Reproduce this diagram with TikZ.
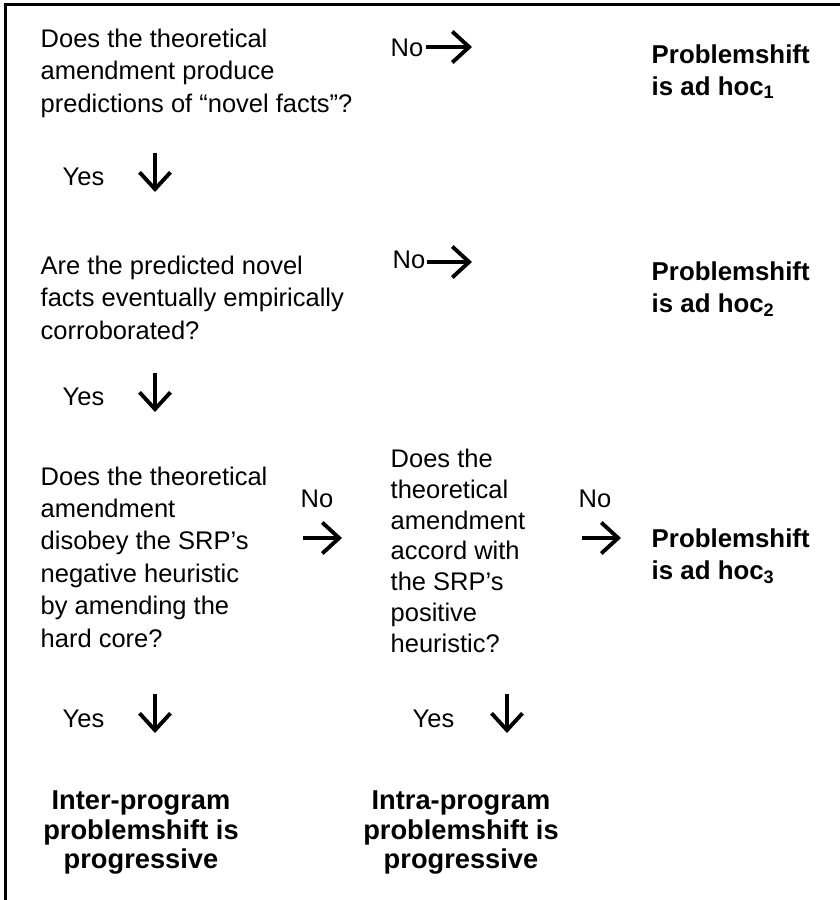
\documentclass[tikz,border=0pt]{standalone}
\usepackage{fontspec}
\setmainfont{Liberation Sans}
\usetikzlibrary{arrows.meta}

\begin{document}
\begin{tikzpicture}[x=0.01cm, y=-0.01cm,
  every node/.style = {inner sep=0pt, anchor=base west, align=left,
    font=\fontsize{7.25}{9.2}\selectfont},
  tight/.style = {font=\fontsize{7.25}{8.73}\selectfont},
  verdict/.style = {font=\fontsize{7.35}{9.1}\selectfont\bfseries},
  outcome/.style = {anchor=base, align=center,
    font=\fontsize{7.75}{8.25}\selectfont\bfseries},
  glyph/.style = {line width=1.1pt, -{Straight Barb[length=4.8pt, width=8.8pt]}}]
  \useasboundingbox (0,0) rectangle (840,900);
  \draw[line width=0.7pt] (840,4.3) -| (5.3,900);

  \node (q1) at (40,112) {Does the theoretical\\ amendment produce\\ predictions of “novel facts”?};
  \node (q2) at (40,339) {Are the predicted novel\\ facts eventually empirically\\ corroborated?};
  \node (q3) at (40,647) {Does the theoretical\\ amendment\\ disobey the SRP’s\\ negative heuristic\\ by amending the\\ hard core?};
  \node[tight] (q4) at (390,652) {Does the\\ theoretical\\ amendment\\ accord with\\ the SRP’s\\ positive\\ heuristic?};

  \node (no1) at (390,56) {No};
  \node (no2) at (392,268) {No};
  \node (no3) at (300,507) {No};
  \node (no4) at (578,507) {No};
  \node (yes1) at (62,185) {Yes};
  \node (yes2) at (62,405) {Yes};
  \node (yes3) at (62,727) {Yes};
  \node (yes4) at (412,727) {Yes};

  \node[verdict] (adhoc1) at (651,95) {Problemshift\\ is ad hoc\textsubscript{1}};
  \node[verdict] (adhoc2) at (651,312) {Problemshift\\ is ad hoc\textsubscript{2}};
  \node[verdict] (adhoc3) at (651,579) {Problemshift\\ is ad hoc\textsubscript{3}};
  \node[outcome] (inter) at (141,868) {Inter-program\\ problemshift is\\ progressive};
  \node[outcome] (intra) at (461,868) {Intra-program\\ problemshift is\\ progressive};

  \foreach \n/\xa/\ya/\xb/\yb in {no1/426/47/472/47, no2/427/262/472/262,
      no3/303/538/342/538, no4/582/538/621/538, yes1/155/153/155/192,
      yes2/155/373/155/412, yes3/155/694/155/733, yes4/507/694/507/733} {
    \coordinate (\n-from) at (\xa,\ya);
    \coordinate (\n-to) at (\xb,\yb);
    \draw[glyph] (\n-from) -- (\n-to);
  }
\end{tikzpicture}
\end{document}
